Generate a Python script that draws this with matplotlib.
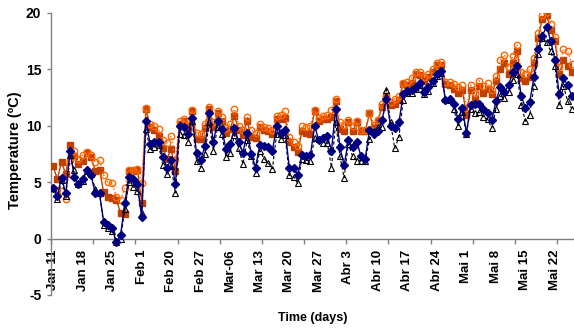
import matplotlib
matplotlib.use('Agg')
import matplotlib.pyplot as plt

plt.rcParams['font.family'] = ['Liberation Sans', 'DejaVu Sans']
plt.rcParams['axes.unicode_minus'] = False

# x tick labels (one every 7 categories)
tick_labels = ["Jan 11", "Jan 18", "Jan 25", "Feb 1", "Feb 20", "Feb 27", "Mar-06",
               "Mar 13", "Mar 20", "Mar 27", "Abr 3", "Abr 10", "Abr 17", "Abr 24",
               "Mai 1", "Mai 8", "Mai 15", "Mai 22"]
y_ticks = [-5, 0, 5, 10, 15, 20]

# Series 1: brown filled squares
brown_sq = [6.4, 5.3, 6.8, 5.7, 8.3, 7.3, 6.6, 6.9, 7.6, 7.2, 6.0, 6.1, 4.1, 3.7, 3.6, 3.4, 2.3, 2.2, 6.0, 6.0, 6.1, 3.2,
            11.5, 9.9, 9.6, 9.1, 8.0, 7.1, 7.9, 6.0,
            10.2, 10.4, 9.8, 11.3, 8.8, 8.8, 9.8, 11.5, 9.9, 11.1, 10.4, 9.4, 9.7, 10.9, 9.6, 9.2, 10.4, 9.0, 8.9, 9.9,
            9.6, 9.5, 9.3, 10.6, 10.6, 10.7, 8.6, 8.1, 7.7, 9.5, 9.4, 9.3,
            11.3, 10.4, 10.6, 10.6, 10.8, 12.2, 9.7, 9.5, 10.3, 9.5, 10.3, 9.5, 9.5, 11.1, 9.8, 10.4, 11.7, 12.6, 11.8,
            11.9, 12.3, 13.7, 13.6, 13.8, 14.6, 14.5, 14.0, 14.3, 14.8, 15.4, 15.4,
            13.7, 13.6, 13.3, 12.9, 13.2, 11.0, 13.2, 12.4, 13.5, 12.9, 13.3, 12.8,
            14.0, 15.0, 15.6, 14.6, 15.6, 16.6, 14.2, 14.0, 14.3, 15.6, 17.8, 19.5, 19.8, 18.5, 17.5, 14.6, 15.8, 15.3, 14.8]

# Series 2: orange open circles
orange_ci = [4.5, 4.3, 4.2, 3.5, 7.0, 7.8, 7.1, 7.4, 7.7, 7.4, 6.8, 7.0, 5.6, 5.0, 4.9, 3.7, 3.4, 4.5, 6.1, 6.1, 6.2, 4.9,
             11.6, 10.2, 10.0, 9.7, 8.7, 8.5, 9.1, 7.0,
             10.4, 10.6, 10.1, 11.4, 9.4, 9.3, 10.2, 11.7, 10.3, 11.3, 10.8, 9.8, 10.2, 11.5, 10.0, 9.6, 10.8, 9.6, 9.4, 10.2,
             9.9, 9.8, 9.6, 10.9, 11.0, 11.3, 9.0, 8.6, 8.2, 10.0, 9.9, 10.0,
             11.4, 10.7, 10.9, 11.0, 11.4, 12.4, 10.3, 10.1, 10.5, 10.0, 10.4, 9.6, 9.6, 11.1, 10.1, 10.5, 11.9, 12.6, 12.1,
             12.4, 12.6, 13.8, 13.9, 14.2, 14.8, 14.8, 14.3, 14.6, 15.0, 15.6, 15.7,
             13.9, 13.9, 13.7, 13.4, 13.6, 11.6, 13.6, 12.9, 14.0, 13.5, 13.8, 13.2,
             14.4, 15.8, 16.3, 15.2, 16.2, 17.2, 14.8, 14.6, 15.0, 16.0, 18.2, 19.8, 20.1, 19.0, 17.9, 15.2, 16.8, 16.6, 15.5]

# Series 3: navy filled diamonds
navy_di = [4.5, 3.8, 5.4, 4.0, 7.8, 5.5, 4.8, 5.3, 6.1, 5.6, 4.0, 4.0, 1.5, 1.2, 0.9, -0.3, 0.3, 3.2, 5.5, 5.3, 4.8, 1.9,
           10.4, 8.4, 8.6, 8.6, 7.2, 6.3, 7.0, 4.8,
           10.0, 9.9, 9.3, 10.7, 7.6, 7.0, 8.2, 11.1, 8.6, 10.4, 9.7, 7.9, 8.4, 9.8, 8.6, 7.6, 9.4, 7.5, 6.3, 8.3,
           8.2, 8.1, 7.8, 10.0, 9.4, 9.6, 6.3, 6.3, 5.6, 7.4, 7.3, 7.4,
           10.0, 8.7, 8.9, 9.1, 7.8, 11.5, 8.1, 6.5, 8.7, 8.1, 8.6, 7.3, 7.1, 9.6, 9.3, 9.5, 10.5, 12.4, 10.0,
           9.8, 10.3, 12.8, 13.1, 13.2, 13.4, 13.8, 13.0, 13.4, 14.0, 14.6, 14.9,
           12.3, 12.4, 11.9, 10.6, 11.6, 9.4, 11.8, 11.9, 11.9, 11.5, 11.1, 10.5,
           12.2, 13.4, 13.0, 13.6, 14.8, 15.3, 12.6, 11.6, 12.1, 14.3, 16.8, 18.0, 18.8, 17.5, 15.8, 12.8, 14.2, 13.6, 12.6]

# Series 4: black open triangles
black_tr = [4.5, 3.5, 5.2, 3.8, 7.4, 6.1, 4.8, 5.1, 6.0, 5.7, 4.4, 4.0, 1.2, 0.9, 0.7, -0.3, 0.0, 2.6, 5.0, 4.6, 4.2, 2.3,
            9.7, 7.9, 8.1, 8.3, 6.5, 5.7, 6.4, 4.0,
            9.3, 9.2, 8.6, 10.4, 6.9, 6.3, 7.5, 10.3, 7.8, 9.9, 9.3, 7.2, 7.6, 9.2, 8.0, 6.6, 8.7, 7.3, 5.8, 7.8,
            7.1, 6.7, 6.2, 9.3, 8.8, 9.2, 5.6, 5.5, 4.9, 7.1, 7.0, 6.9,
            8.9, 8.8, 8.5, 8.5, 6.3, 10.3, 7.3, 5.4, 8.4, 7.3, 6.9, 6.9, 6.9, 8.8, 9.5, 9.9, 9.9, 13.2, 10.3,
            8.0, 9.0, 12.3, 12.9, 12.9, 13.3, 13.6, 12.8, 13.1, 13.8, 14.4, 14.7,
            12.4, 12.3, 11.5, 10.0, 11.2, 9.3, 11.5, 11.1, 11.2, 10.8, 10.6, 9.8,
            11.5, 12.6, 12.5, 13.0, 14.1, 14.6, 11.8, 10.4, 11.0, 13.5, 16.4, 17.8, 17.4, 16.6, 15.3, 11.8, 13.5, 12.2, 11.5]

n = len(brown_sq)
x = list(range(n))

W, H = 574, 330
fig = plt.figure(figsize=(W / 100, H / 100), dpi=100)
ax = fig.add_axes([51 / W, 1 - 295 / H, (574 - 51) / W, (295 - 13) / H])

ax.plot(x, brown_sq, '-', color='#C04000', lw=1.0, marker='s', ms=5.0,
        mfc='#C04000', mec='#C04000', zorder=3)
ax.plot(x, orange_ci, ':', color='#FF6600', lw=1.0, marker='o', ms=4.6,
        mfc='none', mec='#FF6600', mew=1.0, zorder=4)
ax.plot(x, black_tr, '--', color='black', lw=0.8, dashes=(3, 2), marker='^', ms=5.0,
        mfc='none', mec='black', mew=0.8, zorder=5)
ax.plot(x, navy_di, '-', color='#000080', lw=1.0, marker='D', ms=3.6,
        mfc='#000080', mec='#000080', zorder=6)

ax.set_xlim(-0.5, n - 0.5)
ax.set_ylim(-5, 20)

for s in ['top', 'right']:
    ax.spines[s].set_visible(False)
ax.spines['bottom'].set_position(('data', 0))
for s in ['left', 'bottom']:
    ax.spines[s].set_color('#808080')
    ax.spines[s].set_linewidth(1.0)

ax.set_yticks(y_ticks)
ax.set_yticklabels([str(v) for v in y_ticks], fontsize=10, fontweight='bold')
ax.tick_params(axis='y', direction='out', length=3, width=1, color='#808080', pad=4)

label_pos = [7 * k for k in range(len(tick_labels))]
ax.set_xticks(label_pos)
ax.set_xticklabels(tick_labels, rotation=90, fontsize=9.5, fontweight='bold', ha='center', va='top')
ax.tick_params(axis='x', which='major', length=0, pad=8)
ax.set_xticks([k - 0.5 for k in range(0, n, 10)], minor=True)
ax.tick_params(axis='x', which='minor', direction='out', length=3.5, width=1, color='#808080')

fig.text(313 / W, 1 - 318 / H, "Time (days)", ha='center', va='center', fontsize=9, fontweight='bold')
fig.text(15 / W, 1 - 150 / H, "Temperature (ºC)", ha='center', va='center', rotation=90,
         fontsize=10.5, fontweight='bold')

fig.savefig('out.png', dpi=100)
